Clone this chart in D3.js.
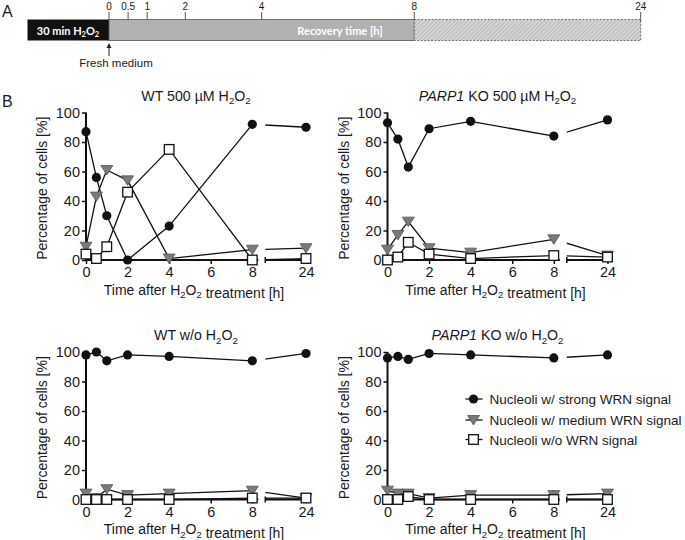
<!DOCTYPE html>
<html><head><meta charset="utf-8">
<script src="https://cdn.jsdelivr.net/npm/d3@7/dist/d3.min.js"></script>
<style>body{margin:0;background:#fff}svg{display:block}text{font-family:"Liberation Sans",Arial,sans-serif;fill:#1a1a1a}</style>
</head><body><svg id="c" width="685" height="540"></svg>
<script>
// ---- data ----
const times = [0, 0.5, 1, 2, 4, 8, 24];
const xTicks = [0, 2, 4, 6, 8, 24];
const yTicks = [0, 20, 40, 60, 80, 100];
const timelineTicks = [0, 0.5, 1, 2, 4, 8, 24];
const timelineTickLabels = ["0", "0.5", "1", "2", "4", "8", "24"];
const seriesNames = ["Nucleoli w/ strong WRN signal", "Nucleoli w/ medium WRN signal", "Nucleoli w/o WRN signal"];

const wt500Strong = [87, 56, 30, 0, 23, 92, 90];
const wt500Medium = [9, 43, 61, 54, 1, 7, 8];
const wt500None   = [4, 1, 9, 46, 75, 0, 1];
const ko500Strong = [93, 82, 63, 89, 94, 84, 95];
const ko500Medium = [7, 17, 26, 8, 5, 14, 3];
const ko500None   = [0, 2, 12, 4, 1, 3, 2];
const wtCtrlStrong = [98, 100, 94, 98, 97, 94, 99];
const wtCtrlMedium = [4, 1, 7, 3, 4, 6, 1];
const wtCtrlNone   = [0, 0, 0, 0, 0, 1, 1];
const koCtrlStrong = [96, 97, 95, 99, 98, 96, 98];
const koCtrlMedium = [6, 4, 4, 1, 3, 3, 4];
const koCtrlNone   = [0, 0, 2, 0, 0, 0, 0];

const panels = [
  {pre: "", title: "WT 500 µM H", sets: [wt500Strong, wt500Medium, wt500None], ox: 86, oy: 112.5},
  {pre: "PARP1", title: " KO 500 µM H", sets: [ko500Strong, ko500Medium, ko500None], ox: 387.5, oy: 112.5},
  {pre: "", title: "WT w/o H", sets: [wtCtrlStrong, wtCtrlMedium, wtCtrlNone], ox: 86, oy: 352},
  {pre: "PARP1", title: " KO w/o H", sets: [koCtrlStrong, koCtrlMedium, koCtrlNone], ox: 387.5, oy: 352, legend: true}
];

const svg = d3.select("#c");

// helper: append H2O2 with subscripts
function h2o2(t, fs) {
  const sub = fs * 0.68, d = fs * 0.25;
  t.append("tspan").attr("font-size", sub).attr("dy", d).text("2");
  t.append("tspan").attr("dy", -d).text("O");
  t.append("tspan").attr("font-size", sub).attr("dy", d).text("2");
  t.append("tspan").attr("dy", -d).text("");
}

// ---- Panel A timeline ----
const tl = d3.scaleLinear().domain([0, 8, 24]).range([109, 414.3, 640.7]);
svg.append("text").attr("x", 2).attr("y", 17).attr("font-size", 16).text("A");
const defs = svg.append("defs");
const pat = defs.append("pattern").attr("id", "hatch").attr("patternUnits", "userSpaceOnUse")
  .attr("width", 3).attr("height", 3).attr("patternTransform", "rotate(45)");
pat.append("rect").attr("width", 3).attr("height", 3).attr("fill", "#d4d4d4");
pat.append("line").attr("x1", 0).attr("y1", 0).attr("x2", 0).attr("y2", 3).attr("stroke", "#a8a8a8").attr("stroke-width", 1.2);

const barTop = 19.5, barH = 21;
svg.append("rect").attr("x", 27.5).attr("y", barTop).attr("width", tl(0) - 27.5).attr("height", barH).attr("fill", "#111");
svg.append("rect").attr("x", tl(0)).attr("y", barTop).attr("width", tl(8) - tl(0)).attr("height", barH)
  .attr("fill", "#b1b1b1").attr("stroke", "#555").attr("stroke-width", 0.8);
svg.append("rect").attr("x", tl(8)).attr("y", barTop).attr("width", tl(24) - tl(8)).attr("height", barH)
  .attr("fill", "url(#hatch)").attr("stroke", "#555").attr("stroke-width", 0.8).attr("stroke-dasharray", "2,1.5");
const bt = svg.append("text").attr("x", 68).attr("y", 34.5).attr("text-anchor", "middle").attr("font-size", 11)
  .attr("font-weight", "bold").style("font-family", "Lato, sans-serif").style("fill", "#fff").text("30 min H");
h2o2(bt, 11);
svg.append("text").attr("x", 340).attr("y", 34.5).attr("text-anchor", "middle").attr("font-size", 11)
  .attr("font-weight", "bold").style("font-family", "Lato, sans-serif").style("fill", "#fff").text("Recovery time [h]");
timelineTicks.forEach((t, i) => {
  svg.append("line").attr("x1", tl(t)).attr("x2", tl(t)).attr("y1", 12).attr("y2", barTop + (t === 24 ? 2 : 0))
    .attr("stroke", "#444").attr("stroke-width", 0.9);
  svg.append("text").attr("x", tl(t)).attr("y", 10).attr("text-anchor", "middle").attr("font-size", 10)
    .text(timelineTickLabels[i]);
});
svg.append("line").attr("x1", tl(0)).attr("x2", tl(0)).attr("y1", 56).attr("y2", 47).attr("stroke", "#222").attr("stroke-width", 1);
svg.append("path").attr("d", `M${tl(0) - 2.5},${48} L${tl(0)},${43} L${tl(0) + 2.5},${48} Z`).attr("fill", "#222");
svg.append("text").attr("x", 116).attr("y", 67).attr("text-anchor", "middle").attr("font-size", 11.5).text("Fresh medium");

svg.append("text").attr("x", 2).attr("y", 107).attr("font-size", 16).text("B");

// ---- Panels B ----
const H = 147.5;
const FS = 14;
panels.forEach((p, pi) => {
  const g = svg.append("g").attr("transform", `translate(${p.ox},${p.oy})`);
  const x = d3.scaleLinear().domain([0, 8, 24]).range([0, 166.3, 220]);
  const y = d3.scaleLinear().domain([0, 100]).range([H, 0]);
  const gapStart = x(8) + 6, gapEnd = x(8) + 13;

  // title
  const tt = g.append("text").attr("x", 110).attr("y", -12).attr("text-anchor", "middle").attr("font-size", 14.2);
  if (p.pre) tt.append("tspan").attr("font-style", "italic").text(p.pre);
  tt.append("tspan").text(p.title);
  h2o2(tt, 14.2);

  // y axis
  const ya = g.append("g").call(d3.axisLeft(y).tickValues(yTicks).tickSize(4).tickPadding(2));
  ya.select(".domain").remove();
  ya.selectAll(".tick line").attr("stroke", "#111").attr("stroke-width", 1.5);
  ya.selectAll(".tick text").attr("font-size", 14.5).style("font-family", "Liberation Sans, Arial").attr("fill", "#1a1a1a");
  g.append("line").attr("x1", 0).attr("x2", 0).attr("y1", 0).attr("y2", H + 1).attr("stroke", "#111").attr("stroke-width", 2);

  // x axis
  const xa = g.append("g").attr("transform", `translate(0,${H})`)
    .call(d3.axisBottom(x).tickValues(xTicks).tickFormat(d3.format("d")).tickSize(4).tickPadding(3));
  xa.select(".domain").remove();
  xa.selectAll(".tick line").attr("stroke", "#111").attr("stroke-width", 1.5);
  xa.selectAll(".tick text").attr("font-size", 14.5).style("font-family", "Liberation Sans, Arial").attr("fill", "#1a1a1a");
  g.append("line").attr("x1", -1).attr("x2", gapStart).attr("y1", H).attr("y2", H).attr("stroke", "#111").attr("stroke-width", 2);
  g.append("line").attr("x1", gapEnd).attr("x2", x(24) + 1).attr("y1", H).attr("y2", H).attr("stroke", "#111").attr("stroke-width", 2);
  g.append("line").attr("x1", gapEnd).attr("x2", gapEnd).attr("y1", H - 3).attr("y2", H + 3).attr("stroke", "#111").attr("stroke-width", 1.5);

  // axis labels
  const xl = g.append("text").attr("x", 108).attr("y", H + 34.5).attr("text-anchor", "middle").attr("font-size", FS).text("Time after H");
  h2o2(xl, FS);
  xl.append("tspan").text(" treatment [h]");
  g.append("text").attr("transform", `translate(-39,${H / 2 + 2}) rotate(-90)`).attr("text-anchor", "middle")
    .attr("font-size", FS).text("Percentage of cells [%]");

  // clip for post-break segment
  const cid = "clip" + pi;
  defs.append("clipPath").attr("id", cid).append("rect").attr("x", gapEnd).attr("y", -20).attr("width", 100).attr("height", H + 40);

  const line = d3.line().x(d => x(d[0])).y(d => y(d[1]));
  p.sets.forEach((vals, si) => {
    const pts = times.map((t, i) => [t, vals[i]]);
    g.append("path").attr("d", line(pts.slice(0, 6))).attr("fill", "none").attr("stroke", "#111").attr("stroke-width", 1.3);
    g.append("path").attr("d", line(pts.slice(5))).attr("fill", "none").attr("stroke", "#111").attr("stroke-width", 1.3)
      .attr("clip-path", `url(#${cid})`);
  });
  p.sets.forEach((vals, si) => {
    const pts = times.map((t, i) => [t, vals[i]]);
    drawMarkers(g, pts.map(d => [x(d[0]), y(d[1])]), si);
  });

  if (p.legend) {
    const lg = g.append("g").attr("transform", "translate(86,47)");
    seriesNames.forEach((n, i) => {
      const ry = [0, 21, 40.5][i];
      lg.append("line").attr("x1", -8).attr("x2", 9).attr("y1", ry).attr("y2", ry).attr("stroke", "#111").attr("stroke-width", 1.3);
      drawMarkers(lg, [[0, ry]], i);
      lg.append("text").attr("x", 16).attr("y", ry + 5).attr("font-size", 13.5).text(n);
    });
  }
});

function drawMarkers(g, pts, type) {
  pts.forEach(([px, py]) => {
    if (type === 0) {
      g.append("circle").attr("cx", px).attr("cy", py).attr("r", 4.6).attr("fill", "#111");
    } else if (type === 1) {
      g.append("path").attr("d", `M${px - 6},${py - 4.5} L${px + 6},${py - 4.5} L${px},${py + 5} Z`)
        .attr("fill", "#7a7a7a").attr("stroke", "#555").attr("stroke-width", 0.8);
    } else {
      g.append("rect").attr("x", px - 4.8).attr("y", py - 4.8).attr("width", 9.6).attr("height", 9.6)
        .attr("fill", "#fff").attr("stroke", "#111").attr("stroke-width", 1.3);
    }
  });
}
</script></body></html>
